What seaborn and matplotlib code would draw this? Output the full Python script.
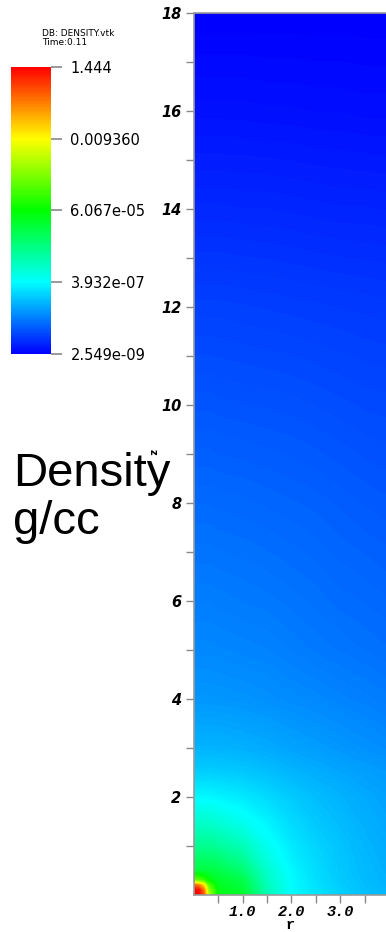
import numpy as np
import matplotlib
matplotlib.use("Agg")
import matplotlib.pyplot as plt
import seaborn as sns

# grid of the r-z simulation slice (cm)
r_vals = [0.0, 0.1, 0.2, 0.3, 0.5, 1.0, 1.5, 2.0, 2.5, 3.0, 3.5, 4.0]
z_vals = [0.0, 0.1, 0.2, 0.3, 0.5, 1.0, 1.5, 2.0, 2.5, 3.0, 4.0, 5.0,
          6.0, 8.0, 10.0, 12.0, 14.0, 16.0, 18.0]

# log10(density g/cc), one row per z value, columns follow r_vals
log_rho = [
    [0.16, 0.10, -0.60, -2.80, -4.39, -4.57, -5.79, -6.41, -6.62, -6.80, -6.93, -7.02],
    [0.10, 0.00, -0.90, -3.00, -4.39, -4.66, -5.79, -6.41, -6.62, -6.80, -6.93, -7.02],
    [-0.70, -1.00, -1.80, -3.50, -4.48, -4.74, -5.79, -6.41, -6.65, -6.82, -6.95, -7.04],
    [-3.34, -3.52, -3.78, -4.22, -4.57, -4.83, -5.88, -6.41, -6.67, -6.84, -6.97, -7.05],
    [-4.74, -4.74, -4.74, -4.74, -4.83, -5.18, -5.97, -6.45, -6.69, -6.86, -6.98, -7.07],
    [-5.44, -5.44, -5.44, -5.44, -5.53, -5.79, -6.27, -6.58, -6.76, -6.90, -7.02, -7.11],
    [-5.97, -5.97, -5.97, -5.97, -6.06, -6.27, -6.49, -6.71, -6.86, -6.97, -7.07, -7.15],
    [-6.45, -6.45, -6.45, -6.45, -6.49, -6.58, -6.71, -6.84, -6.95, -7.04, -7.12, -7.19],
    [-6.80, -6.80, -6.80, -6.80, -6.82, -6.86, -6.93, -7.02, -7.09, -7.15, -7.21, -7.26],
    [-7.04, -7.04, -7.04, -7.04, -7.04, -7.07, -7.12, -7.18, -7.23, -7.28, -7.33, -7.37],
    [-7.28, -7.28, -7.28, -7.28, -7.29, -7.31, -7.34, -7.38, -7.41, -7.45, -7.48, -7.52],
    [-7.41, -7.41, -7.41, -7.41, -7.42, -7.44, -7.46, -7.50, -7.54, -7.57, -7.60, -7.63],
    [-7.50, -7.50, -7.50, -7.50, -7.51, -7.53, -7.55, -7.58, -7.61, -7.65, -7.67, -7.70],
    [-7.67, -7.67, -7.67, -7.67, -7.68, -7.69, -7.71, -7.73, -7.75, -7.78, -7.81, -7.83],
    [-7.85, -7.85, -7.85, -7.85, -7.86, -7.87, -7.88, -7.89, -7.91, -7.93, -7.95, -7.96],
    [-8.03, -8.03, -8.03, -8.03, -8.03, -8.04, -8.05, -8.06, -8.07, -8.08, -8.09, -8.10],
    [-8.24, -8.24, -8.24, -8.24, -8.24, -8.25, -8.25, -8.26, -8.27, -8.28, -8.28, -8.29],
    [-8.44, -8.44, -8.44, -8.44, -8.44, -8.44, -8.45, -8.45, -8.46, -8.46, -8.47, -8.47],
    [-8.59, -8.59, -8.59, -8.59, -8.59, -8.59, -8.59, -8.59, -8.59, -8.59, -8.59, -8.59],
]

cbar_values = [1.444, 0.009360, 6.067e-05, 3.932e-07, 2.549e-09]
cbar_labels = ["1.444", "0.009360", "6.067e-05", "3.932e-07", "2.549e-09"]
x_ticks = [1.0, 2.0, 3.0]
y_ticks = [2, 4, 6, 8, 10, 12, 14, 16, 18]

sns.set_style("white")
plt.rcParams["font.family"] = ["DejaVu Sans"]
plt.rcParams["text.color"] = "black"
plt.rcParams["xtick.labelcolor"] = "black"
plt.rcParams["ytick.labelcolor"] = "black"

cmap = sns.blend_palette(["#0000ff", "#00ffff", "#00ff00", "#ffff00", "#ff0000"],
                         n_colors=256, as_cmap=True)
vmin = np.log10(cbar_values[-1])
vmax = np.log10(cbar_values[0])

fig = plt.figure(figsize=(3.86, 9.32), dpi=100)
ax = fig.add_axes([194 / 386, 1 - 895 / 932, 192 / 386, 882 / 932])

R, Z = np.meshgrid(r_vals, z_vals)
levels = np.linspace(vmin, vmax, 256)
ax.contourf(R, Z, np.array(log_rho), levels=levels, cmap=cmap, extend="both")
ax.set_xlim(0, 3.94)
ax.set_ylim(0, 18)

ax.set_xticks(x_ticks)
ax.set_xticklabels(["1.0", "2.0", "3.0"])
ax.set_xticks([0.5, 1.5, 2.5, 3.5], minor=True)
ax.set_yticks(y_ticks)
ax.set_yticklabels([str(v) for v in y_ticks])
ax.set_yticks([1, 3, 5, 7, 9, 11, 13, 15, 17], minor=True)
ax.tick_params(which="both", direction="out", length=6, width=1, color="#888888",
               bottom=True, left=True, top=False, right=False)
for lab in ax.get_xticklabels():
    lab.set_fontfamily("Liberation Mono")
    lab.set_fontweight("bold")
    lab.set_fontstyle("italic")
    lab.set_fontsize(11)
for lab in ax.get_yticklabels():
    lab.set_fontweight("bold")
    lab.set_fontstyle("italic")
    lab.set_fontsize(10.5)
ax.tick_params(axis="x", pad=1)
ax.tick_params(axis="y", pad=3)
for side in ["left", "bottom", "top"]:
    ax.spines[side].set_color("#999999")
    ax.spines[side].set_linewidth(1.2)
ax.spines["right"].set_visible(False)

fig.text(290 / 386, 1 - 925 / 932, "r", ha="center", va="center", fontsize=11,
         family="Liberation Mono", weight="bold")
fig.text(153 / 386, 1 - 452 / 932, "z", ha="center", va="center", fontsize=7,
         weight="bold", rotation=-90)

# colorbar legend
cax = fig.add_axes([11 / 386, 1 - 354 / 932, 40 / 386, 287 / 932])
sm = plt.cm.ScalarMappable(norm=plt.Normalize(vmin, vmax), cmap=cmap)
cb = fig.colorbar(sm, cax=cax, ticks=np.log10(cbar_values))
cb.set_ticklabels(cbar_labels)
cb.outline.set_visible(False)
cax.tick_params(length=8, width=1.2, color="#888888", pad=6, labelsize=10.5,
                labelcolor="black")

fig.text(42 / 386, 1 - 38 / 932, "DB: DENSITY.vtk\nTime:0.11", ha="left", va="center",
         fontsize=6.5, linespacing=1.0)

fig.text(13 / 386, 1 - 452 / 932, "Density\ng/cc", ha="left", va="top", fontsize=34,
         family="Liberation Sans", linespacing=1.12)

fig.savefig("out.png", dpi=100)
